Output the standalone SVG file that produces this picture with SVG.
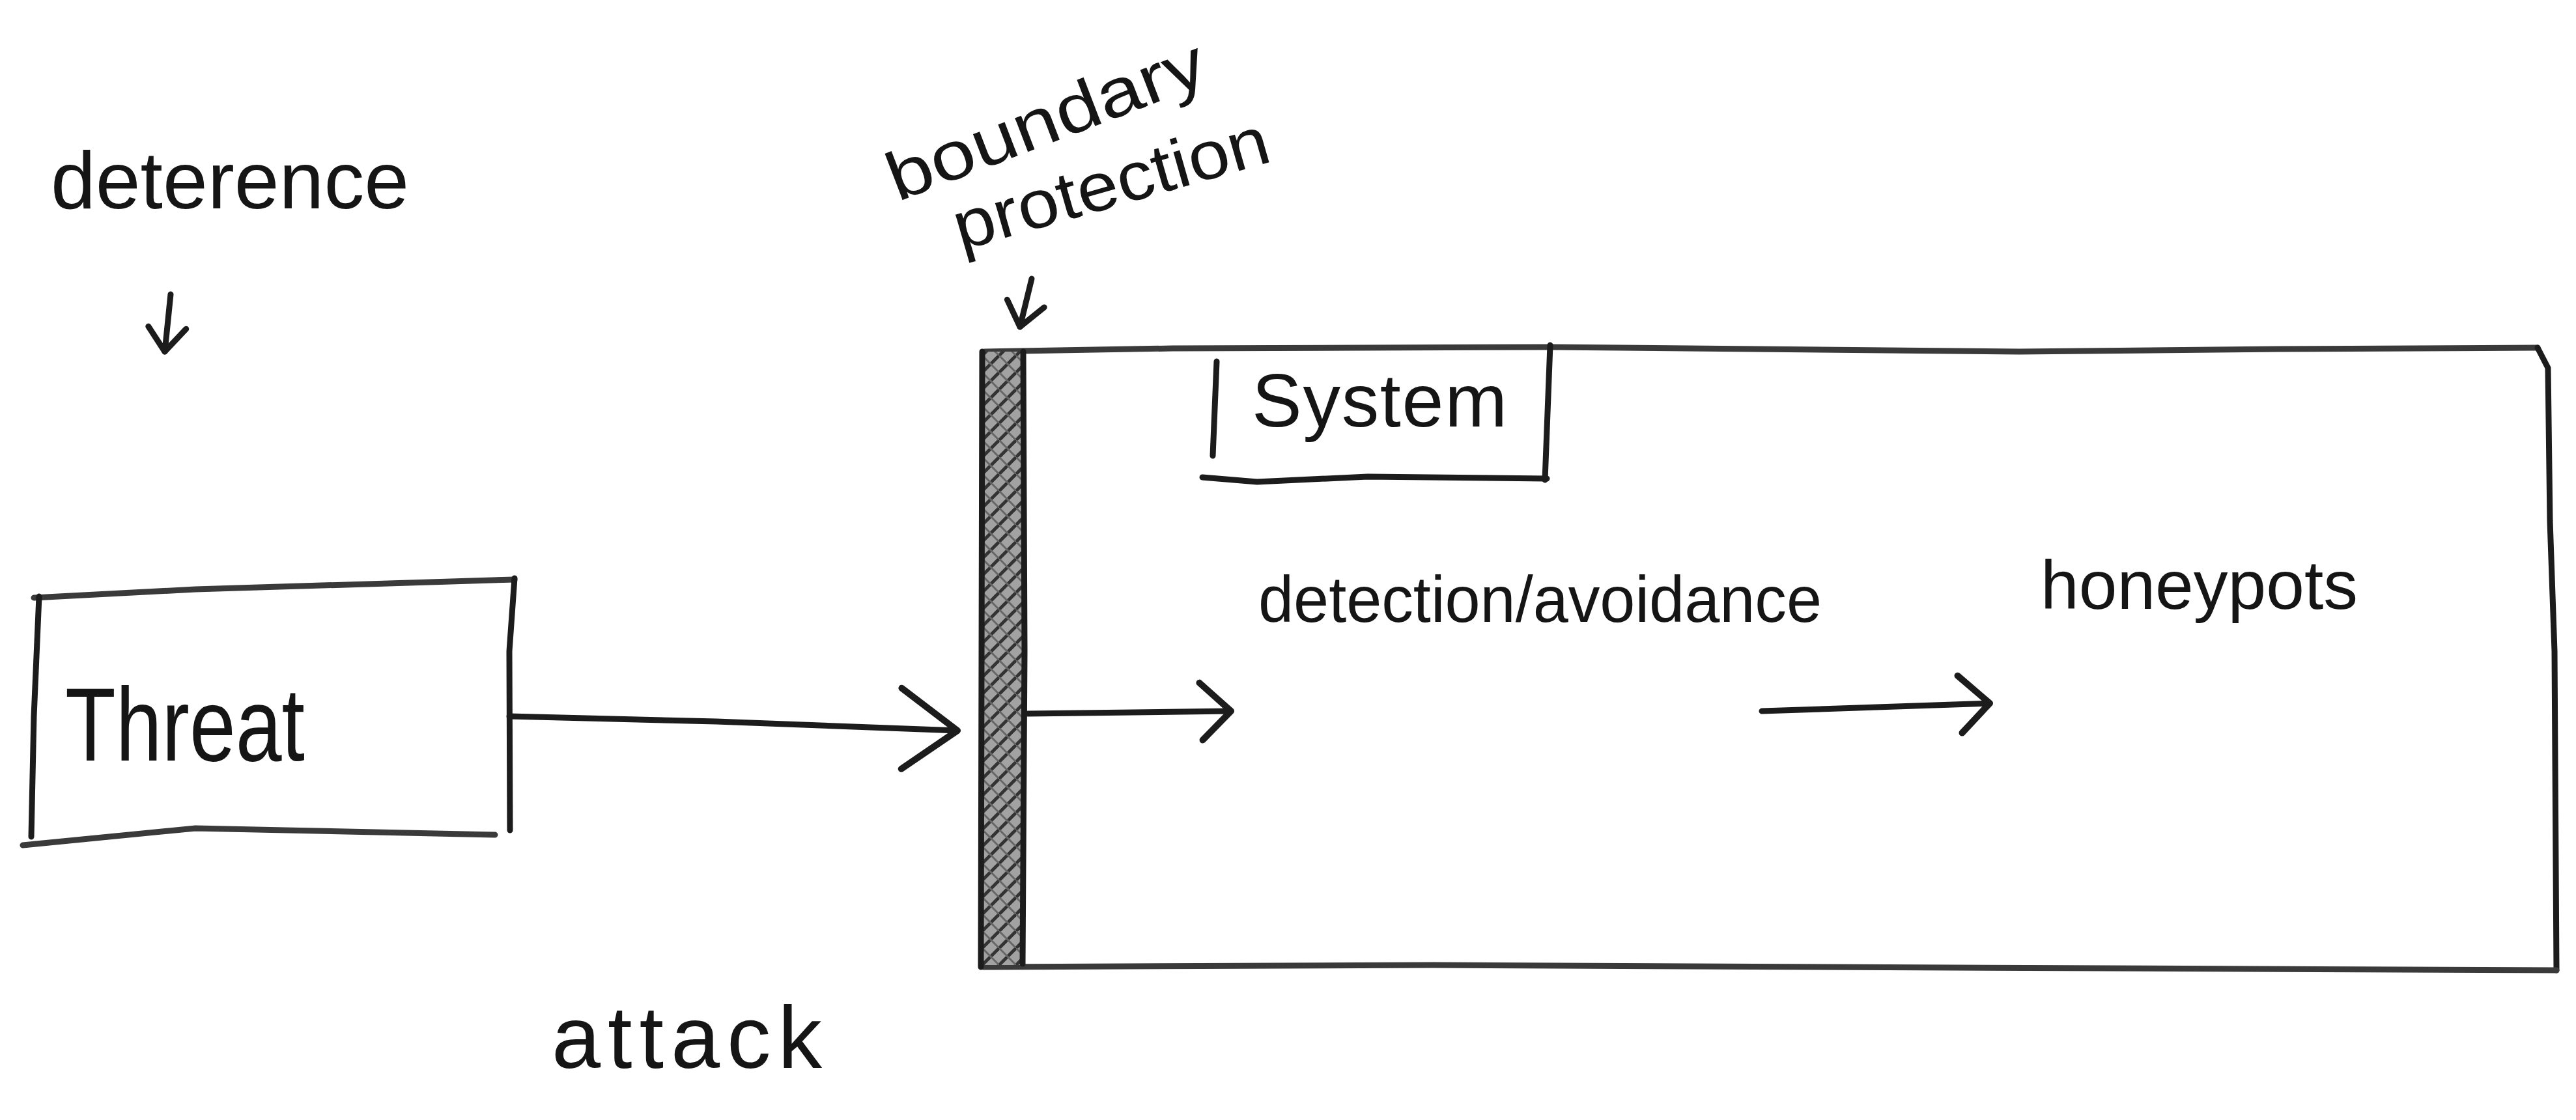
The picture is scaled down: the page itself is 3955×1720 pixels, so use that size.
<svg xmlns="http://www.w3.org/2000/svg" width="3955" height="1720" viewBox="0 0 3955 1720">
  <style>
    .hand { font-family: "Liberation Sans", "DejaVu Sans", sans-serif; fill: #151515; }
    .ln { fill: none; stroke: #1c1c1c; stroke-width: 9; stroke-linecap: round; stroke-linejoin: round; }
    .lnGray { fill: none; stroke: #3a3a3a; stroke-width: 9; stroke-linecap: round; stroke-linejoin: round; }
    .arrow { fill: none; stroke: #1c1c1c; stroke-width: 9; stroke-linecap: round; }
  </style>
  <defs>
    <marker id="headL" markerUnits="userSpaceOnUse" viewBox="0 0 100 136" markerWidth="100" markerHeight="136" refX="94" refY="68" orient="auto">
      <path d="M6,6 L94,68 L10,130" fill="none" stroke="#1c1c1c" stroke-width="10" stroke-linecap="round" stroke-linejoin="round"/>
    </marker>
    <marker id="headM" markerUnits="userSpaceOnUse" viewBox="0 0 60 100" markerWidth="60" markerHeight="100" refX="54" refY="50" orient="auto">
      <path d="M6,6 L54,50 L10,94" fill="none" stroke="#1c1c1c" stroke-width="10" stroke-linecap="round" stroke-linejoin="round"/>
    </marker>
    <marker id="headS" markerUnits="userSpaceOnUse" viewBox="0 0 50 70" markerWidth="50" markerHeight="70" refX="44" refY="35" orient="auto">
      <path d="M6,6 L44,35 L8,64" fill="none" stroke="#1c1c1c" stroke-width="9" stroke-linecap="round" stroke-linejoin="round"/>
    </marker>
    <pattern id="hatch" patternUnits="userSpaceOnUse" width="26" height="26">
      <rect width="26" height="26" fill="#a2a2a2"/>
      <path d="M-4,30 L30,-4" stroke="#333333" stroke-width="5"/>
      <path d="M-4,4 L4,-4 M22,30 L30,22" stroke="#333333" stroke-width="5"/>
      <path d="M0,0 L26,26" stroke="#666666" stroke-width="3"/>
    </pattern>
  </defs>

  <rect width="3955" height="1720" fill="#ffffff"/>

  <!-- Labels outside nodes -->
  <g id="label-deterence">
    <text class="hand" x="78" y="320" font-size="125" textLength="550" lengthAdjust="spacingAndGlyphs">deterence</text>
  </g>
  <g id="label-boundary-protection">
    <text class="hand" transform="translate(1378,310) rotate(-21)" font-size="105" textLength="515" lengthAdjust="spacingAndGlyphs">boundary</text>
    <text class="hand" transform="translate(1475,385) rotate(-16)" font-size="105" textLength="500" lengthAdjust="spacingAndGlyphs">protection</text>
  </g>
  <g id="label-attack">
    <text class="hand" x="847" y="1640" font-size="135" textLength="415" lengthAdjust="spacing">attack</text>
  </g>

  <!-- Threat node -->
  <g id="node-threat">
    <path class="lnGray" d="M52,918 L300,905 L790,890"/>
    <path class="ln" d="M790,888 L782,1000 L783,1275"/>
    <path class="ln" d="M60,916 L52,1100 L48,1285"/>
    <path class="lnGray" d="M35,1298 L300,1272 L760,1282"/>
    <text class="hand" x="100" y="1168" font-size="160" textLength="368" lengthAdjust="spacingAndGlyphs">Threat</text>
  </g>

  <!-- System node -->
  <g id="node-system">
    <path class="lnGray" d="M1512,540 L1800,535 L2380,533 L3100,540 L3500,536 L3896,534"/>
    <path class="ln" d="M3896,534 L3912,565 L3915,800 L3922,1000 L3925,1490"/>
    <path class="lnGray" d="M1510,1485 L2200,1482 L3000,1486 L3925,1490"/>
    <g id="system-label">
      <path class="ln" d="M1868,555 L1862,700"/>
      <path class="ln" d="M2380,530 L2372,737"/>
      <path class="ln" d="M1846,733 L1930,740 L2100,732 L2375,735"/>
      <text class="hand" x="1922" y="655" font-size="115" textLength="392" lengthAdjust="spacing">System</text>
    </g>
    <text class="hand" x="1932" y="955" font-size="100" textLength="865" lengthAdjust="spacingAndGlyphs">detection/avoidance</text>
    <text class="hand" x="3133" y="935" font-size="105" textLength="487" lengthAdjust="spacingAndGlyphs">honeypots</text>
  </g>

  <!-- Boundary (hatched wall) -->
  <g id="node-boundary">
    <rect x="1508" y="540" width="62" height="942" fill="url(#hatch)"/>
    <path class="ln" d="M1508,540 L1506,1485"/>
    <path class="ln" d="M1571,540 L1573,1000 L1570,1480"/>
  </g>

  <!-- Connectors -->
  <g id="connectors">
    <path class="arrow" d="M262,452 L253,540" marker-end="url(#headS)"/>
    <path class="arrow" d="M1584,428 L1566,502" marker-end="url(#headS)"/>
    <path class="arrow" d="M782,1100 L1100,1108 L1470,1122" marker-end="url(#headL)"/>
    <path class="arrow" d="M1578,1096 L1890,1092" marker-end="url(#headM)"/>
    <path class="arrow" d="M2705,1092 L3055,1080" marker-end="url(#headM)"/>
  </g>
</svg>
